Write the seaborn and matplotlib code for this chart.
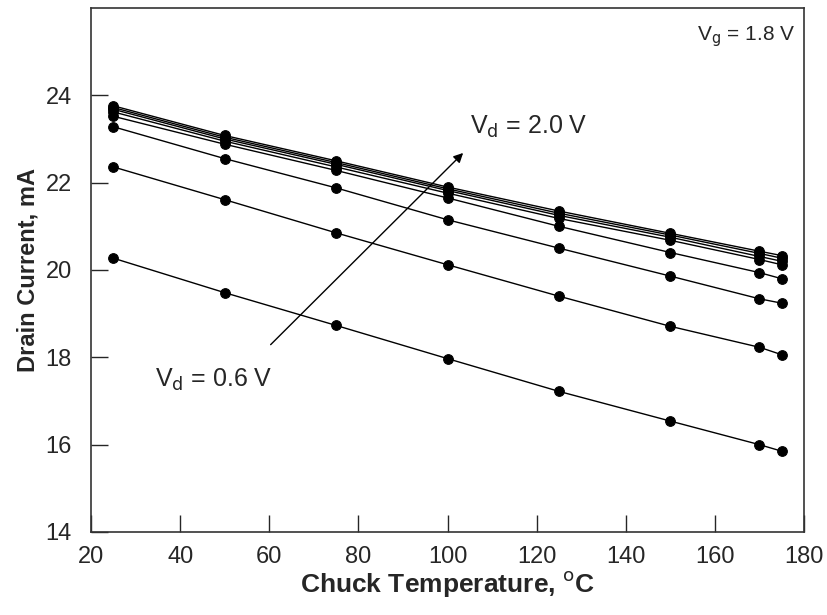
import numpy as np
import pandas as pd
import matplotlib
matplotlib.use("Agg")
import matplotlib.pyplot as plt
import seaborn as sns

# Chuck temperature set points (deg C)
temperature = [25, 50, 75, 100, 125, 150, 170, 175]

# Drain current (mA) at Vg = 1.8 V for each drain bias
vd_levels = ["0.6", "0.8", "1.0", "1.2", "1.4", "1.6", "1.8", "2.0"]
id_06 = [20.27, 19.48, 18.73, 17.97, 17.22, 16.54, 16.00, 15.85]
id_08 = [22.36, 21.61, 20.85, 20.12, 19.40, 18.71, 18.23, 18.06]
id_10 = [23.28, 22.55, 21.88, 21.15, 20.50, 19.86, 19.34, 19.24]
id_12 = [23.52, 22.88, 22.28, 21.65, 21.00, 20.40, 19.94, 19.80]
id_14 = [23.62, 22.95, 22.36, 21.76, 21.18, 20.68, 20.24, 20.12]
id_16 = [23.68, 23.00, 22.42, 21.82, 21.25, 20.75, 20.31, 20.20]
id_18 = [23.72, 23.04, 22.46, 21.86, 21.30, 20.80, 20.38, 20.27]
id_20 = [23.76, 23.08, 22.50, 21.90, 21.35, 20.84, 20.43, 20.33]

series = [id_06, id_08, id_10, id_12, id_14, id_16, id_18, id_20]
df = pd.DataFrame({
    "temp": np.tile(temperature, len(vd_levels)),
    "current": np.concatenate(series),
    "vd": np.repeat(vd_levels, len(temperature)),
})

sns.set_style("ticks")
plt.rcParams["font.family"] = ["Liberation Sans", "DejaVu Sans"]

fig = plt.figure(figsize=(8.28, 6.15), dpi=100)
ax = fig.add_axes([0.110, 0.135, 0.861, 0.852])

sns.lineplot(data=df, x="temp", y="current", hue="vd",
             palette=["black"] * len(vd_levels), marker="o", markersize=7,
             markeredgecolor="black", linewidth=1.0, legend=False, ax=ax)

ax.set_xlim(20, 180)
ax.set_ylim(14, 26)
ax.set_xticks(np.arange(20, 181, 20))
ax.set_yticks(np.arange(14, 25, 2))
ax.tick_params(direction="in", length=12, width=1.0, labelsize=17,
               top=False, right=False)
ax.tick_params(axis="y", pad=14)
ax.tick_params(axis="x", pad=10)
for sp in ax.spines.values():
    sp.set_visible(True)
    sp.set_linewidth(1.2)
    sp.set_color("#333333")

ax.set_xlabel("Chuck Temperature, $^{\\mathrm{o}}$C", fontsize=19,
              fontweight="bold", labelpad=1)
ax.set_ylabel("Drain Current, mA", fontsize=17, fontweight="bold", labelpad=4)

ax.text(178, 25.34, "V$_\\mathrm{g}$ = 1.8 V", fontsize=15,
        ha="right", va="center")
ax.text(105.1, 23.28, "V$_\\mathrm{d}$ = 2.0 V", fontsize=18,
        ha="left", va="center")
ax.text(34.4, 17.49, "V$_\\mathrm{d}$ = 0.6 V", fontsize=18,
        ha="left", va="center")
ax.annotate("", xy=(103.5, 22.68), xytext=(60.3, 18.29),
            arrowprops=dict(arrowstyle="-|>", color="black", lw=1.0,
                            mutation_scale=14, shrinkA=0, shrinkB=0))

fig.savefig("out.png", dpi=100)
